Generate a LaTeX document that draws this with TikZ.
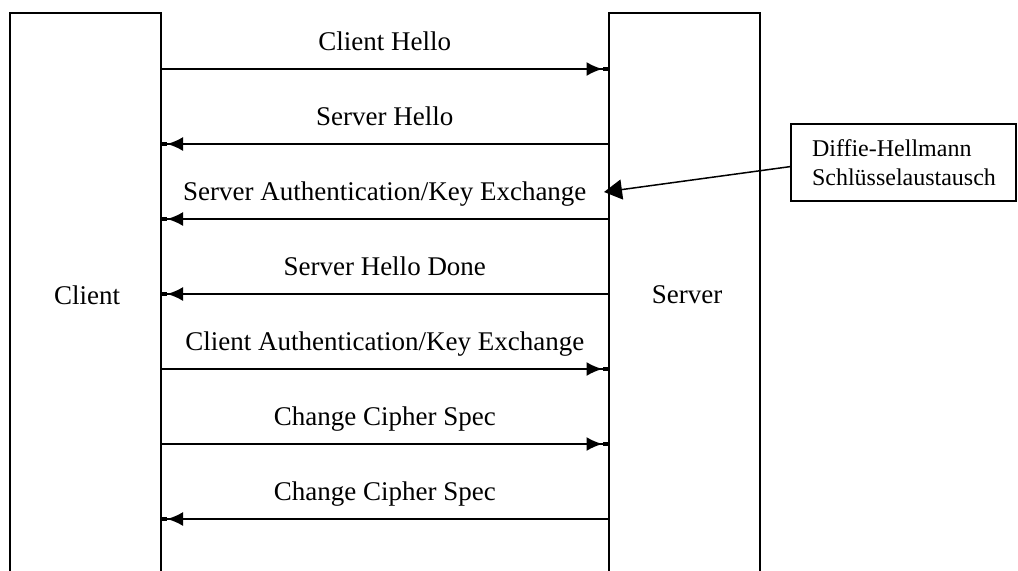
\documentclass[tikz,border=0pt]{standalone}
\usepackage{fontspec}
\setmainfont{Liberation Serif}
\usetikzlibrary{arrows.meta,calc}
\begin{document}
\begin{tikzpicture}[x=0.5pt,y=-0.5pt,
  party/.style={draw, line width=1pt, outer sep=0pt, minimum width=75.5pt,
    minimum height=300pt, anchor=north, inner sep=0pt},
  lbl/.style={font=\fontsize{13.5}{16}\selectfont, anchor=base, inner sep=0pt},
  msg/.style={line width=1pt,
    -{Latex[length=8pt,width=7pt]Square[length=3pt,width=2.2pt]}},
  note/.style={draw, line width=0.8pt, outer sep=0pt, minimum width=112.5pt,
    minimum height=38.5pt, inner xsep=10.5pt, align=left, text width=91.5pt,
    font=\fontsize{12}{14.5}\selectfont},
  pointer/.style={line width=0.75pt, -{Triangle[length=9pt,width=10pt]}}]
\useasboundingbox (0,0) rectangle (1018,570);
\clip (0,0) rectangle (1018,570);

% the two parties, open towards the bottom
\node[party] (client) at (85.5,13) {};
\node[party] (server) at (684,13) {};
\node[lbl, anchor=center] (clientlbl) at (87,295) {Client};
\node[lbl, anchor=center] (serverlbl) at (687,295) {Server};

% handshake messages (r: client to server, l: server to client)
\foreach \i/\txt/\dir in {0/{Client Hello}/r, 1/{Server Hello}/l,
    2/{Server Authentication/Key Exchange}/l, 3/{Server Hello Done}/l,
    4/{Client Authentication/Key Exchange}/r, 5/{Change Cipher Spec}/r,
    6/{Change Cipher Spec}/l} {
  \pgfmathsetmacro{\yy}{69+75*\i}
  \coordinate (c\i) at (client.east |- 0,\yy);
  \coordinate (s\i) at (server.west |- 0,\yy);
  \node[lbl] (m\i) at ($(c\i)!0.5!(s\i)+(0,-19)$) {\txt};
  \if\dir r
    \draw[msg] (c\i) -- (s\i);
  \else
    \draw[msg] (s\i) -- (c\i);
  \fi
}

% annotation
\node[note] (dh) at (903.5,162.5) {Diffie-Hellmann\\Schlüsselaustausch};
\coordinate (dhtip) at (604,192);
\draw[pointer] ($(dh.west)+(0,4)$) -- (dhtip);
\end{tikzpicture}
\end{document}
